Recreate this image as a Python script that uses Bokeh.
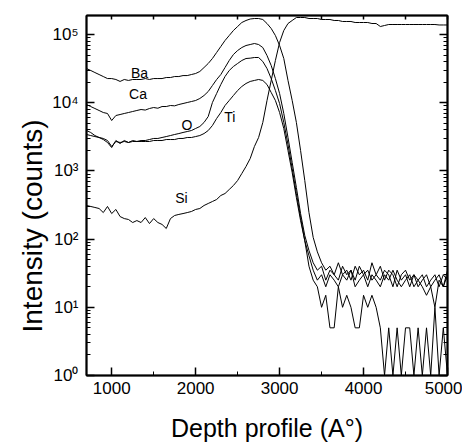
import numpy as np
from bokeh.plotting import figure
from bokeh.models import Range1d, FixedTicker, LinearAxis, LogAxis, Label, Title
from bokeh.embed import file_html
from bokeh.resources import INLINE

# depth sampling (Angstrom)
depth = list(range(700, 5001, 50))

ba = [31700, 29700, 27700, 25900, 24200, 22600, 22600, 21900, 20500, 21900,
      21200, 21900, 21900, 21900, 22600, 21900, 22600, 22600, 22600, 23400,
      23400, 24200, 24200, 25000, 25000, 25900, 26800, 28700, 32800, 37600,
      44500, 54500, 66700, 81700, 96700, 114500, 131000, 150000, 160500, 168800,
      171600, 171600, 166000, 145000, 122500, 96700, 69000, 44500, 21200, 10800,
      5130, 1990, 723, 245, 106,
      65, 45, 35, 40, 30, 45, 30, 35, 25, 40, 30, 35, 25, 45, 30, 25, 35, 30, 20, 35,
      25, 30, 20, 30, 25, 30, 20, 25, 30, 20, 30, 25]

ca = [9410, 8790, 8220, 7690, 7180, 6950, 5480, 6490, 6710, 6950,
      7180, 7430, 7690, 7950, 7800, 8220, 8500, 8300, 8790, 8790,
      9100, 9000, 9410, 9730, 10070, 10410, 10770, 11530, 12760, 14600,
      17870, 21880, 25880, 32800, 41590, 50900, 58240, 64400, 69000, 71300,
      73800, 71300, 64400, 49200, 35100, 22600, 13650, 6950, 3090, 1328,
      571, 237, 113, 68,
      45, 35, 40, 25, 35, 30, 25, 40, 30, 35, 25, 40, 30, 35, 25, 30, 40, 25, 35, 30,
      20, 30, 35, 25, 30, 20, 25, 30, 20, 25, 30, 20, 35]

o = [3910, 3660, 3300, 3090, 2885, 2610, 2200, 2790, 2520, 2790,
     2610, 2790, 2700, 2790, 2790, 2885, 2990, 2990, 3090, 3190,
     3300, 3420, 3530, 3660, 3780, 3910, 4190, 4480, 5130, 6280,
     10070, 13650, 18490, 24220, 29660, 33960, 37580, 41590, 44480, 45000,
     46000, 46000, 40200, 31700, 22600, 15100, 9730, 5130, 2440, 1084,
     466, 207, 95, 57,
     35, 25, 30, 20, 30, 25, 20, 30, 25, 35, 20, 25, 30, 20, 30, 25, 20, 30, 25, 35,
     25, 20, 25, 30, 20, 25, 20, 15, 20, 10, 25, 20, 30]

ti = [3420, 3300, 3190, 3090, 2990, 2790, 2280, 2700, 2610, 2700,
      2610, 2700, 2700, 2700, 2700, 2700, 2790, 2790, 2790, 2885,
      2885, 2885, 2990, 2990, 3090, 3090, 3190, 3300, 3530, 3910,
      4630, 5870, 7180, 9100, 10770, 12760, 15100, 17290, 19130, 20500,
      21200, 21900, 21200, 18490, 14120, 10770, 7180, 4190, 1990, 948,
      407, 187, 95,
      40, 25, 20, 10, 15, 5, 5, 20, 10, 15, 10, 5, 5, 15, 10, 15, 10, 5, 0, 5,
      0, 5, 0, 5, 5, 0, 5, 0, 5, 0, 10, 0, 5, 0]

si = [311, 301, 291, 281, 245, 301, 237, 272, 214, 200,
      194, 175, 187, 175, 207, 169, 200, 175, 164, 143,
      200, 222, 230, 237, 245, 254, 272, 281, 311, 333,
      356, 381, 436, 466, 534, 611, 723, 916, 1161, 1521,
      2280, 3090, 5130, 10770, 21200, 41590, 76400, 114500, 145000, 160500,
      177500, 177500, 177500, 171600, 171600, 171600, 166000, 166000, 166000, 160500,
      160500, 155200, 155200, 155200, 150000, 150000, 150000, 150000, 145000, 145000,
      131000, 135500, 140200, 140200, 140200, 140200, 140200, 140200, 140200, 140200,
      140200, 140200, 140200, 140200, 138000, 138000, 138000]

series_names = ["Ba", "Ca", "O", "Ti", "Si"]
x_ticks = [1000, 2000, 3000, 4000, 5000]
x_minor = [1500, 2500, 3500, 4500]
y_ticks = [1, 10, 100, 1000, 10000, 100000]
y_labels = ["10\u2070", "10\u00b9", "10\u00b2", "10\u00b3", "10\u2074", "10\u2075"]
x_title = "Depth profile (A\u00b0)"
y_title = "Intensity (counts)"

FONT = "Liberation Sans"
W, H = 462, 445

p = figure(width=W, height=H, x_axis_type="linear", y_axis_type="log",
           x_range=Range1d(700, 5000), y_range=Range1d(1, 190000),
           output_backend="svg", toolbar_location=None,
           min_border_left=86, min_border_right=15, min_border_top=15, min_border_bottom=70)
p.grid.visible = False
p.background_fill_color = "white"
p.border_fill_color = "white"
p.outline_line_color = "black"
p.outline_line_width = 1.5

for s in [ba, ca, o, ti, si]:
    arr = np.clip(np.array(s, dtype=float), 1, None)  # zero counts drawn at the axis floor
    p.line(depth, arr, line_color="black", line_width=1)

xa = p.xaxis[0]
xa.ticker = FixedTicker(ticks=x_ticks, minor_ticks=x_minor)
xa.axis_label = x_title
ya = p.yaxis[0]
minor_y = [m * 10 ** k for k in range(0, 6) for m in range(2, 10) if m * 10 ** k < 190000]
ya.ticker = FixedTicker(ticks=y_ticks, minor_ticks=minor_y)
ya.major_label_overrides = {t: l for t, l in zip(y_ticks, y_labels)}

top = LinearAxis(ticker=FixedTicker(ticks=x_ticks + x_minor, minor_ticks=[]))
right = LogAxis(ticker=FixedTicker(ticks=y_ticks, minor_ticks=minor_y))
p.add_layout(top, "above")
p.add_layout(right, "right")

for ax in [xa, ya, top, right]:
    ax.axis_line_width = 2
    ax.axis_line_color = "black"
    ax.major_tick_out = 0
    ax.minor_tick_out = 0
    ax.major_tick_in = 8
    ax.minor_tick_in = 4
    ax.major_tick_line_width = 1.5
    ax.minor_tick_line_width = 1
    ax.major_tick_line_color = "black"
    ax.minor_tick_line_color = "black"
    ax.major_label_text_font = FONT
    ax.major_label_text_font_size = "17px"
    ax.major_label_text_color = "black"
    ax.axis_label_text_font = FONT
    ax.axis_label_text_font_size = "25px"
    ax.axis_label_text_font_style = "normal"
    ax.axis_label_text_color = "black"

top.major_tick_in = 4
for ax in [top, right]:
    ax.major_label_text_font_size = "0px"
    ax.major_label_text_color = None
    ax.major_label_standoff = 0

xa.major_label_standoff = 6
xa.axis_label_standoff = 17
ya.major_label_standoff = 8

# y-axis title as a side title, so it can sit a little below the frame centre as in the original
p.add_layout(Title(text=y_title, align="left", offset=43, vertical_align="bottom", standoff=4,
                   text_font=FONT, text_font_size="28px", text_font_style="normal",
                   text_color="black"), "left")

label_x = [1331, 1313, 1896, 2408, 1831]
label_y = [27700, 13200, 4710, 6070, 394]
for name, lx, ly in zip(series_names, label_x, label_y):
    p.add_layout(Label(x=lx, y=ly, text=name, text_font=FONT, text_font_size="14px",
                       text_align="center", text_baseline="middle", text_color="black"))

open("out.html", "w").write(file_html(p, INLINE))
